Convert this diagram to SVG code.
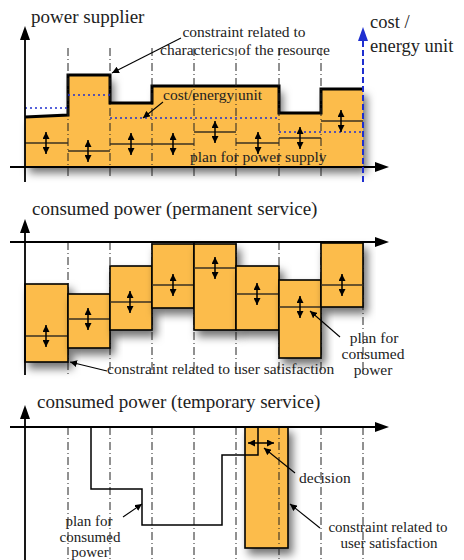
<svg xmlns="http://www.w3.org/2000/svg" width="464" height="560" viewBox="0 0 464 560">
<defs>
<style>
.t{font-family:"Liberation Serif","Times New Roman",serif;fill:#222}
.title{font-size:19px}
.lab{font-size:15.5px}
.sm{font-size:15px}
.axis{stroke:#000;stroke-width:1.8;fill:none}
.dd{stroke:#222;stroke-width:1;stroke-dasharray:8 3 1 3;fill:none}
.box{fill:#fcbc4c;stroke:#000;stroke-width:1.6}
.plan{stroke:#3a3020;stroke-width:1.3;fill:none}
.dbl{stroke:#000;stroke-width:1.5;marker-start:url(#ah);marker-end:url(#ah)}
.con{stroke:#000;stroke-width:1.1;fill:none;marker-end:url(#ah)}
.blue{stroke:#1f2fd0;stroke-width:1.5;stroke-dasharray:2 3;fill:none}
</style>
<marker id="ah" viewBox="0 0 10 10" refX="10" refY="5" markerWidth="7" markerHeight="7" markerUnits="userSpaceOnUse" orient="auto-start-reverse">
<path d="M0,0 L10,5 L0,10 Z" fill="#000"/>
</marker>
<filter id="sh" x="-20%" y="-20%" width="150%" height="160%">
<feDropShadow dx="4" dy="6" stdDeviation="4" flood-color="#000" flood-opacity="0.55"/>
</filter>
</defs>

<!-- ============ TOP PANEL ============ -->
<g id="supply-area">
<path d="M25,167 V117 L68,115 V75 H110 V103 H152 V86 H279 V113 H321 V89 H363 V167 Z" fill="#fcbc4c" filter="url(#sh)"/>
<path d="M25,117 L68,115 V75 H110 V103 H152 V86 H279 V113 H321 V89 H363" fill="none" stroke="#000" stroke-width="3"/>
</g>
<g id="top-grid">
<path class="dd" d="M68,48 V178 M110,48 V178 M152,48 V178 M194,48 V178 M236,48 V178 M279,48 V178 M321,48 V178"/>
</g>
<g id="cost-line">
<path class="blue" d="M25,108 H68 M68,95 H110 M110,118 H279 M279,132 H363"/>
</g>
<g id="supply-plan">
<path class="plan" d="M25,143 H68 M68,151 H110 M110,144 H194 M194,132 H236 M236,143 H279 M279,138 H321 M321,121 H363"/>
<line class="dbl" x1="46" y1="132" x2="46" y2="154"/>
<line class="dbl" x1="88" y1="140" x2="88" y2="162"/>
<line class="dbl" x1="131" y1="133" x2="131" y2="155"/>
<line class="dbl" x1="173" y1="133" x2="173" y2="155"/>
<line class="dbl" x1="215" y1="121" x2="215" y2="143"/>
<line class="dbl" x1="258" y1="132" x2="258" y2="154"/>
<line class="dbl" x1="300" y1="127" x2="300" y2="149"/>
<line class="dbl" x1="341" y1="110" x2="341" y2="132"/>
</g>
<g id="top-axes">
<path class="axis" d="M10,167 H378 M25,182 V38"/>
<path d="M389,167 L375,162 L375,172 Z" fill="#000"/>
<path d="M25,26 L20,40 L30,40 Z" fill="#000"/>
<path d="M363,182 V40" stroke="#1f2fd0" stroke-width="2" stroke-dasharray="6 3" fill="none"/>
<path d="M363,27 L358,41 L368,41 Z" fill="#1f2fd0"/>
</g>
<g id="top-labels">
<text class="t title" x="31" y="23">power supplier</text>
<text class="t" style="font-size:18.5px" x="370" y="28">cost /</text>
<text class="t" style="font-size:18.5px" x="370" y="52">energy unit</text>
<text class="t lab" x="244" y="37" text-anchor="middle">constraint related to</text>
<text class="t lab" x="245" y="55" text-anchor="middle">characterics of the resource</text>
<text class="t lab" x="163" y="100">cost/energy unit</text>
<text class="t lab" x="190" y="162">plan for power supply</text>
</g>

<!-- ============ MIDDLE PANEL ============ -->
<g id="mid-grid">
<path class="dd" d="M68,242 V375 M110,242 V375 M152,242 V375 M194,242 V375 M236,242 V375 M279,242 V375 M321,242 V375 M363,242 V375"/>
</g>
<g id="mid-boxes">
<g id="m1"><rect class="box" x="25" y="284" width="43" height="78" filter="url(#sh)"/><line class="plan" x1="25" y1="336" x2="68" y2="336"/><line class="dbl" x1="46" y1="325" x2="46" y2="347"/></g>
<g id="m2"><rect class="box" x="68" y="294" width="42" height="54" filter="url(#sh)"/><line class="plan" x1="68" y1="319" x2="110" y2="319"/><line class="dbl" x1="88" y1="308" x2="88" y2="330"/></g>
<g id="m3"><rect class="box" x="110" y="266" width="42" height="64" filter="url(#sh)"/><line class="plan" x1="110" y1="302" x2="152" y2="302"/><line class="dbl" x1="130" y1="291" x2="130" y2="313"/></g>
<g id="m4"><rect class="box" x="152" y="244" width="42" height="64" filter="url(#sh)"/><line class="plan" x1="152" y1="285" x2="194" y2="285"/><line class="dbl" x1="173" y1="274" x2="173" y2="296"/></g>
<g id="m5"><rect class="box" x="194" y="244" width="42" height="86" filter="url(#sh)"/><line class="plan" x1="194" y1="268" x2="236" y2="268"/><line class="dbl" x1="215" y1="257" x2="215" y2="279"/></g>
<g id="m6"><rect class="box" x="236" y="266" width="43" height="64" filter="url(#sh)"/><line class="plan" x1="236" y1="294" x2="279" y2="294"/><line class="dbl" x1="257" y1="283" x2="257" y2="305"/></g>
<g id="m7"><rect class="box" x="279" y="280" width="42" height="78" filter="url(#sh)"/><line class="plan" x1="279" y1="307" x2="321" y2="307"/><line class="dbl" x1="300" y1="296" x2="300" y2="318"/></g>
<g id="m8"><rect class="box" x="321" y="243" width="42" height="64" filter="url(#sh)"/><line class="plan" x1="321" y1="285" x2="363" y2="285"/><line class="dbl" x1="342" y1="274" x2="342" y2="296"/></g>
</g>
<g id="mid-axes">
<path class="axis" d="M10,242 H378 M25,375 V231"/>
<path d="M389,242 L375,237 L375,247 Z" fill="#000"/>
<path d="M25,219 L20,233 L30,233 Z" fill="#000"/>
</g>
<g id="mid-labels">
<text class="t title" x="32" y="215">consumed power (permanent service)</text>
<text class="t lab" x="107" y="374">constraint related to user satisfaction</text>
<text class="t lab" x="374" y="343" text-anchor="middle">plan for</text>
<text class="t lab" x="373" y="359" text-anchor="middle">consumed</text>
<text class="t lab" x="373" y="375" text-anchor="middle">power</text>
</g>

<!-- ============ BOTTOM PANEL ============ -->
<g id="bot-box">
<rect class="box" x="245" y="427" width="43" height="121" filter="url(#sh)"/>
</g>
<g id="bot-grid">
<path class="dd" d="M68,427 V560 M110,427 V560 M152,427 V560 M194,427 V560 M236,427 V560 M279,427 V560 M321,427 V560 M363,427 V560"/>
</g>
<g id="bot-plan">
<path d="M91,427 V489 H142 V525 H222 V455 H258 V427" fill="none" stroke="#000" stroke-width="1.5"/>
<line class="dbl" x1="248" y1="443" x2="274" y2="443"/>
</g>
<g id="bot-axes">
<path class="axis" d="M10,427 H378 M25,560 V417"/>
<path d="M389,427 L375,422 L375,432 Z" fill="#000"/>
<path d="M25,405 L20,419 L30,419 Z" fill="#000"/>
</g>
<g id="bot-labels">
<text class="t title" x="37" y="408">consumed power (temporary service)</text>
<text class="t lab" x="299" y="483">decision</text>
<text class="t sm" x="388" y="532" text-anchor="middle">constraint related to</text>
<text class="t sm" x="389" y="548" text-anchor="middle">user satisfaction</text>
<text class="t sm" x="89" y="526" text-anchor="middle">plan for</text>
<text class="t sm" x="90" y="542" text-anchor="middle">consumed</text>
<text class="t sm" x="90" y="557" text-anchor="middle">power</text>
</g>

<!-- ============ CONNECTORS ============ -->
<g id="connectors">
<line class="con" x1="181" y1="38" x2="112" y2="73"/>
<line class="con" x1="163" y1="102" x2="143" y2="118"/>
<line class="con" x1="107" y1="371" x2="70" y2="362"/>
<line class="con" x1="340" y1="337" x2="310" y2="311"/>
<line class="con" x1="123" y1="517" x2="142" y2="504"/>
<line class="con" x1="295" y1="473" x2="264" y2="448"/>
<line class="con" x1="320" y1="528" x2="290" y2="504"/>
</g>
</svg>
